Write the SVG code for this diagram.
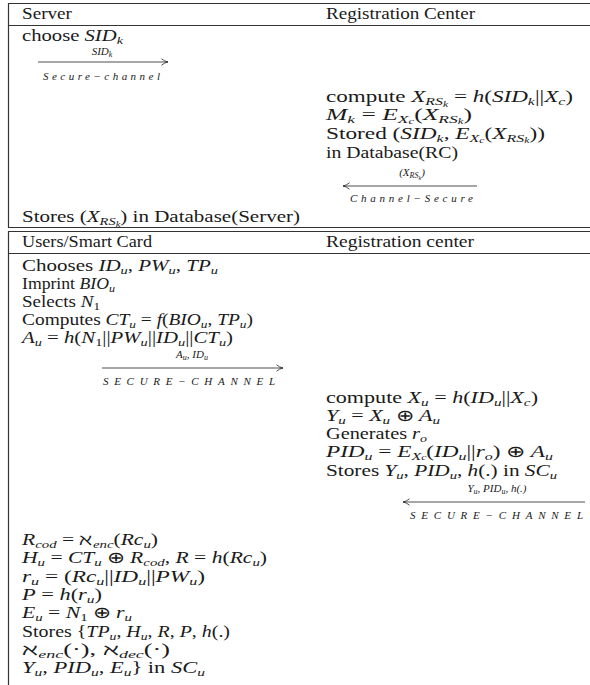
<svg xmlns="http://www.w3.org/2000/svg" width="590" height="685" viewBox="0 0 590 685">
<style>
.r{font-family:"Liberation Serif",serif;font-size:16px;fill:#1a1a1a}
.i{font-style:italic}
.sb{font-size:11px;font-style:italic}
.su{font-size:11px}
.ss{font-size:8px;font-style:italic}
.lb{font-family:"Liberation Serif",serif;font-size:11px;font-style:italic;fill:#1a1a1a}
.rule{stroke:#333;stroke-width:1.2;fill:none}
.arr{stroke:#222;stroke-width:0.8;fill:none;marker-end:url(#ah)}
</style>
<defs>
<marker id="ah" viewBox="0 0 8 8" refX="7.5" refY="4" markerWidth="8" markerHeight="8" markerUnits="userSpaceOnUse" orient="auto">
<path d="M1,0.8 Q4,3.3 7.5,4 Q4,4.7 1,7.2" stroke="#222" stroke-width="0.8" fill="none"/>
</marker>
</defs>
<rect width="590" height="685" fill="#fff"/>
<g id="table-rules">
<line class="rule" x1="8" y1="3.5" x2="590" y2="3.5"/>
<line class="rule" x1="8" y1="25.5" x2="590" y2="25.5"/>
<line class="rule" x1="8" y1="227.5" x2="590" y2="227.5"/>
<line class="rule" x1="8.5" y1="3" x2="8.5" y2="228"/>
<line class="rule" x1="8" y1="231.5" x2="590" y2="231.5"/>
<line class="rule" x1="8" y1="253.5" x2="590" y2="253.5"/>
<line class="rule" x1="8.5" y1="231" x2="8.5" y2="685"/>
</g>
<g id="server">
<text class="r" x="22" y="19" textLength="50" lengthAdjust="spacingAndGlyphs">Server</text>
<text class="r" x="22" y="41" textLength="101" lengthAdjust="spacingAndGlyphs">choose <tspan class="i">SID</tspan><tspan class="sb" dy="3">k</tspan></text>
<text class="r" x="22" y="222" textLength="278" lengthAdjust="spacingAndGlyphs">Stores (<tspan class="i">X</tspan><tspan class="sb" dy="3">RS</tspan><tspan class="ss" dy="1.5">k</tspan><tspan dy="-4.5">) in Database(Server)</tspan></text>
</g>
<g id="registration-center-1">
<text class="r" x="326" y="19" textLength="149" lengthAdjust="spacingAndGlyphs">Registration Center</text>
<text class="r" x="326" y="102" textLength="247" lengthAdjust="spacingAndGlyphs">compute <tspan class="i">X</tspan><tspan class="sb" dy="3">RS</tspan><tspan class="ss" dy="1.5">k</tspan><tspan dy="-4.5"> = </tspan><tspan class="i">h</tspan>(<tspan class="i">SID</tspan><tspan class="sb" dy="3">k</tspan><tspan dy="-3">||</tspan><tspan class="i">X</tspan><tspan class="sb" dy="3">c</tspan><tspan dy="-3">)</tspan></text>
<text class="r" x="326" y="120" textLength="146" lengthAdjust="spacingAndGlyphs"><tspan class="i">M</tspan><tspan class="sb" dy="3">k</tspan><tspan dy="-3"> = </tspan><tspan class="i">E</tspan><tspan class="sb" dy="3">X</tspan><tspan class="ss" dy="1">c</tspan><tspan dy="-4">(</tspan><tspan class="i">X</tspan><tspan class="sb" dy="3">RS</tspan><tspan class="ss" dy="1">k</tspan><tspan dy="-4">)</tspan></text>
<text class="r" x="326" y="139" textLength="219" lengthAdjust="spacingAndGlyphs">Stored (<tspan class="i">SID</tspan><tspan class="sb" dy="3">k</tspan><tspan dy="-3">, </tspan><tspan class="i">E</tspan><tspan class="sb" dy="3">X</tspan><tspan class="ss" dy="1">c</tspan><tspan dy="-4">(</tspan><tspan class="i">X</tspan><tspan class="sb" dy="3">RS</tspan><tspan class="ss" dy="1">k</tspan><tspan dy="-4">))</tspan></text>
<text class="r" x="326" y="158" textLength="132" lengthAdjust="spacingAndGlyphs">in Database(RC)</text>
</g>
<g id="users-smart-card">
<text class="r" x="22" y="247" textLength="130" lengthAdjust="spacingAndGlyphs">Users/Smart Card</text>
<text class="r" x="22" y="271" textLength="196" lengthAdjust="spacingAndGlyphs">Chooses <tspan class="i">ID</tspan><tspan class="sb" dy="3">u</tspan><tspan dy="-3">, </tspan><tspan class="i">PW</tspan><tspan class="sb" dy="3">u</tspan><tspan dy="-3">, </tspan><tspan class="i">TP</tspan><tspan class="sb" dy="3">u</tspan></text>
<text class="r" x="22" y="289" textLength="93" lengthAdjust="spacingAndGlyphs">Imprint <tspan class="i">BIO</tspan><tspan class="sb" dy="3">u</tspan></text>
<text class="r" x="22" y="307" textLength="78" lengthAdjust="spacingAndGlyphs">Selects <tspan class="i">N</tspan><tspan class="su" dy="3">1</tspan></text>
<text class="r" x="22" y="325" textLength="231" lengthAdjust="spacingAndGlyphs">Computes <tspan class="i">CT</tspan><tspan class="sb" dy="3">u</tspan><tspan dy="-3"> = </tspan><tspan class="i">f</tspan>(<tspan class="i">BIO</tspan><tspan class="sb" dy="3">u</tspan><tspan dy="-3">, </tspan><tspan class="i">TP</tspan><tspan class="sb" dy="3">u</tspan><tspan dy="-3">)</tspan></text>
<text class="r" x="22" y="343" textLength="211" lengthAdjust="spacingAndGlyphs"><tspan class="i">A</tspan><tspan class="sb" dy="3">u</tspan><tspan dy="-3"> = </tspan><tspan class="i">h</tspan>(<tspan class="i">N</tspan><tspan class="su" dy="3">1</tspan><tspan dy="-3">||</tspan><tspan class="i">PW</tspan><tspan class="sb" dy="3">u</tspan><tspan dy="-3">||</tspan><tspan class="i">ID</tspan><tspan class="sb" dy="3">u</tspan><tspan dy="-3">||</tspan><tspan class="i">CT</tspan><tspan class="sb" dy="3">u</tspan><tspan dy="-3">)</tspan></text>
<text class="r" x="22" y="545" textLength="136" lengthAdjust="spacingAndGlyphs"><tspan class="i">R</tspan><tspan class="sb" dy="3">cod</tspan><tspan dy="-3"> = ℵ</tspan><tspan class="sb" dy="3">enc</tspan><tspan dy="-3">(</tspan><tspan class="i">Rc</tspan><tspan class="sb" dy="3">u</tspan><tspan dy="-3">)</tspan></text>
<text class="r" x="22" y="563" textLength="245" lengthAdjust="spacingAndGlyphs"><tspan class="i">H</tspan><tspan class="sb" dy="3">u</tspan><tspan dy="-3"> = </tspan><tspan class="i">CT</tspan><tspan class="sb" dy="3">u</tspan><tspan dy="-3"> ⊕ </tspan><tspan class="i">R</tspan><tspan class="sb" dy="3">cod</tspan><tspan dy="-3">, </tspan><tspan class="i">R</tspan> = <tspan class="i">h</tspan>(<tspan class="i">Rc</tspan><tspan class="sb" dy="3">u</tspan><tspan dy="-3">)</tspan></text>
<text class="r" x="22" y="582" textLength="183" lengthAdjust="spacingAndGlyphs"><tspan class="i">r</tspan><tspan class="sb" dy="3">u</tspan><tspan dy="-3"> = (</tspan><tspan class="i">Rc</tspan><tspan class="sb" dy="3">u</tspan><tspan dy="-3">||</tspan><tspan class="i">ID</tspan><tspan class="sb" dy="3">u</tspan><tspan dy="-3">||</tspan><tspan class="i">PW</tspan><tspan class="sb" dy="3">u</tspan><tspan dy="-3">)</tspan></text>
<text class="r" x="22" y="600" textLength="80" lengthAdjust="spacingAndGlyphs"><tspan class="i">P</tspan> = <tspan class="i">h</tspan>(<tspan class="i">r</tspan><tspan class="sb" dy="3">u</tspan><tspan dy="-3">)</tspan></text>
<text class="r" x="22" y="618" textLength="110" lengthAdjust="spacingAndGlyphs"><tspan class="i">E</tspan><tspan class="sb" dy="3">u</tspan><tspan dy="-3"> = </tspan><tspan class="i">N</tspan><tspan class="su" dy="3">1</tspan><tspan dy="-3"> ⊕ </tspan><tspan class="i">r</tspan><tspan class="sb" dy="3">u</tspan></text>
<text class="r" x="22" y="637" textLength="208" lengthAdjust="spacingAndGlyphs">Stores {<tspan class="i">TP</tspan><tspan class="sb" dy="3">u</tspan><tspan dy="-3">, </tspan><tspan class="i">H</tspan><tspan class="sb" dy="3">u</tspan><tspan dy="-3">, </tspan><tspan class="i">R</tspan>, <tspan class="i">P</tspan>, <tspan class="i">h</tspan>(.)</text>
<text class="r" x="22" y="655" textLength="148" lengthAdjust="spacingAndGlyphs">ℵ<tspan class="sb" dy="3">enc</tspan><tspan dy="-3">(·), ℵ</tspan><tspan class="sb" dy="3">dec</tspan><tspan dy="-3">(·)</tspan></text>
<text class="r" x="22" y="673" textLength="183" lengthAdjust="spacingAndGlyphs"><tspan class="i">Y</tspan><tspan class="sb" dy="3">u</tspan><tspan dy="-3">, </tspan><tspan class="i">PID</tspan><tspan class="sb" dy="3">u</tspan><tspan dy="-3">, </tspan><tspan class="i">E</tspan><tspan class="sb" dy="3">u</tspan><tspan dy="-3">} in </tspan><tspan class="i">SC</tspan><tspan class="sb" dy="3">u</tspan></text>
</g>
<g id="registration-center-2">
<text class="r" x="326" y="247" textLength="148" lengthAdjust="spacingAndGlyphs">Registration center</text>
<text class="r" x="326" y="403" textLength="212" lengthAdjust="spacingAndGlyphs">compute <tspan class="i">X</tspan><tspan class="sb" dy="3">u</tspan><tspan dy="-3"> = </tspan><tspan class="i">h</tspan>(<tspan class="i">ID</tspan><tspan class="sb" dy="3">u</tspan><tspan dy="-3">||</tspan><tspan class="i">X</tspan><tspan class="sb" dy="3">c</tspan><tspan dy="-3">)</tspan></text>
<text class="r" x="326" y="421" textLength="114" lengthAdjust="spacingAndGlyphs"><tspan class="i">Y</tspan><tspan class="sb" dy="3">u</tspan><tspan dy="-3"> = </tspan><tspan class="i">X</tspan><tspan class="sb" dy="3">u</tspan><tspan dy="-3"> ⊕ </tspan><tspan class="i">A</tspan><tspan class="sb" dy="3">u</tspan></text>
<text class="r" x="326" y="439" textLength="101" lengthAdjust="spacingAndGlyphs">Generates <tspan class="i">r</tspan><tspan class="sb" dy="3">o</tspan></text>
<text class="r" x="326" y="457" textLength="227" lengthAdjust="spacingAndGlyphs"><tspan class="i">PID</tspan><tspan class="sb" dy="3">u</tspan><tspan dy="-3"> = </tspan><tspan class="i">E</tspan><tspan class="sb" dy="2.5">X</tspan><tspan class="ss" dy="0.5">c</tspan><tspan dy="-3">(</tspan><tspan class="i">ID</tspan><tspan class="sb" dy="3">u</tspan><tspan dy="-3">||</tspan><tspan class="i">r</tspan><tspan class="sb" dy="3">o</tspan><tspan dy="-3">) ⊕ </tspan><tspan class="i">A</tspan><tspan class="sb" dy="3">u</tspan></text>
<text class="r" x="326" y="476" textLength="231" lengthAdjust="spacingAndGlyphs">Stores <tspan class="i">Y</tspan><tspan class="sb" dy="3">u</tspan><tspan dy="-3">, </tspan><tspan class="i">PID</tspan><tspan class="sb" dy="3">u</tspan><tspan dy="-3">, </tspan><tspan class="i">h</tspan>(.) in <tspan class="i">SC</tspan><tspan class="sb" dy="3">u</tspan></text>
</g>
<g id="connectors">
<line class="arr" x1="38" y1="62" x2="168" y2="62"/>
<text class="lb" x="102" y="55" text-anchor="middle">SID<tspan font-size="8" dy="2">k</tspan></text>
<text class="lb" x="43" y="80" textLength="117" lengthAdjust="spacing">Secure−channel</text>
<line class="arr" x1="477" y1="186" x2="343" y2="186"/>
<text class="lb" x="412" y="176" text-anchor="middle">(X<tspan font-size="8" dy="2">RS</tspan><tspan font-size="6" dy="1.5">k</tspan><tspan dy="-3.5">)</tspan></text>
<text class="lb" x="350" y="202" textLength="123" lengthAdjust="spacing">Channel−Secure</text>
<line class="arr" x1="102" y1="368" x2="283" y2="368"/>
<text class="lb" x="192" y="358" text-anchor="middle">A<tspan font-size="8" dy="2">u</tspan><tspan dy="-2">, ID</tspan><tspan font-size="8" dy="2">u</tspan></text>
<text class="lb" x="103" y="385" textLength="172" lengthAdjust="spacing">SECURE−CHANNEL</text>
<line class="arr" x1="585" y1="502" x2="403" y2="502"/>
<text class="lb" x="497" y="492" text-anchor="middle">Y<tspan font-size="8" dy="2">u</tspan><tspan dy="-2">, PID</tspan><tspan font-size="8" dy="2">u</tspan><tspan dy="-2">, h(.)</tspan></text>
<text class="lb" x="410" y="519" textLength="173" lengthAdjust="spacing">SECURE−CHANNEL</text>
</g>
</svg>
